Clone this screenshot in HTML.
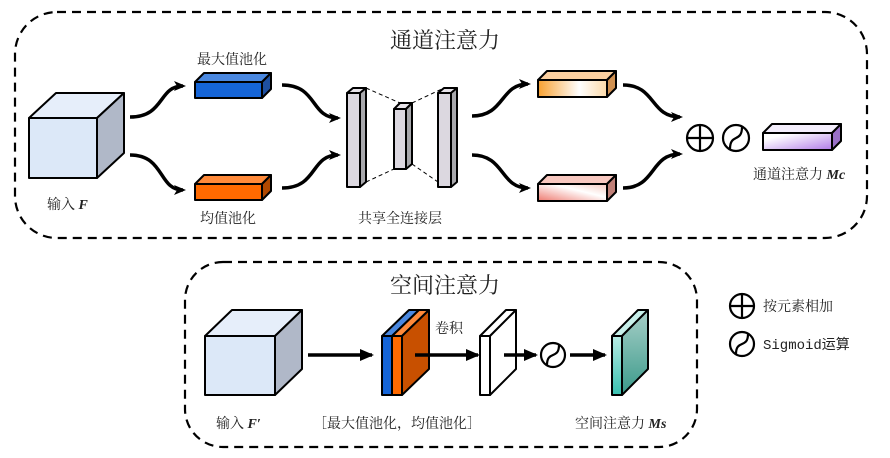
<!DOCTYPE html>
<html><head><meta charset="utf-8"><style>
html,body{margin:0;padding:0;background:#fff;}
svg{display:block;}
text{font-family:"Liberation Serif","Noto Serif CJK SC",serif;fill:#222;}
.m{font-family:"Liberation Mono","Noto Sans CJK SC",monospace;}
</style></head><body>
<svg width="890" height="458" viewBox="0 0 890 458" xmlns="http://www.w3.org/2000/svg">
<defs>
<marker id="ah" markerWidth="12" markerHeight="10" refX="9" refY="5" orient="auto" markerUnits="userSpaceOnUse">
<path d="M0,0 L12,5 L0,10 L3,5 Z" fill="#000"/></marker>
<marker id="ah2" markerWidth="14" markerHeight="12" refX="12" refY="6" orient="auto" markerUnits="userSpaceOnUse">
<path d="M0,0 L14,6 L0,12 Z" fill="#000"/></marker>
<linearGradient id="go" x1="0" y1="0" x2="1" y2="0"><stop offset="0" stop-color="#f7a030"/><stop offset="0.6" stop-color="#fff"/><stop offset="1" stop-color="#fbd9a8"/></linearGradient>
<linearGradient id="gp" x1="0" y1="1" x2="1" y2="0"><stop offset="0" stop-color="#ee7a70"/><stop offset="0.6" stop-color="#fff"/><stop offset="1" stop-color="#f5c8c0"/></linearGradient>
<linearGradient id="gv" x1="0" y1="0" x2="1" y2="1"><stop offset="0.2" stop-color="#fff"/><stop offset="1" stop-color="#b07ae8"/></linearGradient>
<linearGradient id="gt" x1="0" y1="0" x2="0" y2="1"><stop offset="0" stop-color="#b8ece4"/><stop offset="1" stop-color="#38c0b0"/></linearGradient>
<linearGradient id="gt2" x1="0" y1="0" x2="0" y2="1"><stop offset="0" stop-color="#a8cfc8"/><stop offset="1" stop-color="#3a9a8a"/></linearGradient>
</defs>
<g stroke="#000" stroke-width="2.2" fill="none" stroke-dasharray="9,6">
<rect x="15" y="12" width="852" height="226" rx="42"/>
<rect x="185" y="262" width="512" height="185" rx="38"/>
</g>
<text x="445" y="48" font-size="22" text-anchor="middle">通道注意力</text>
<text x="445" y="293" font-size="22" text-anchor="middle">空间注意力</text>
<g stroke="#000" stroke-width="2" stroke-linejoin="round">
<polygon points="29,118 56,93 124,93 97,118" fill="#e6eefa"/>
<polygon points="97,118 124,93 124,153 97,178" fill="#b0b8c8"/>
<rect x="29" y="118" width="68" height="60" fill="#dce8f8"/>
<polygon points="195,82 204,73 271,73 262,82" fill="#4a88e0"/>
<polygon points="262,82 271,73 271,89 262,98" fill="#1e4fa0"/>
<rect x="195" y="82" width="67" height="16" fill="#1565d8"/>
<polygon points="195,184 204,175 271,175 262,184" fill="#ff8a3a"/>
<polygon points="262,184 271,175 271,191 262,200" fill="#b04800"/>
<rect x="195" y="184" width="67" height="16" fill="#ff6a00"/>
<polygon points="347,93 353,88 366,88 360,93" fill="#e8e4ea"/>
<polygon points="360,93 366,88 366,182 360,187" fill="#a8a8ac"/>
<rect x="347" y="93" width="13" height="94" fill="#dcd8e0"/>
<polygon points="394,109 400,103 412,103 406,109" fill="#e8e4ea"/>
<polygon points="406,109 412,103 412,164 406,169" fill="#a8a8ac"/>
<rect x="394" y="109" width="12" height="60" fill="#dcd8e0"/>
<polygon points="438,93 444,88 457,88 451,93" fill="#e8e4ea"/>
<polygon points="451,93 457,88 457,182 451,187" fill="#a8a8ac"/>
<rect x="438" y="93" width="13" height="94" fill="#dcd8e0"/>
<polygon points="538,80 547,71 616,71 607,80" fill="#fcd0a0"/>
<polygon points="607,80 616,71 616,88 607,97" fill="#d09050"/>
<rect x="538" y="80" width="69" height="17" fill="url(#go)"/>
<polygon points="538,184 547,175 616,175 607,184" fill="#f8c8c0"/>
<polygon points="607,184 616,175 616,192 607,201" fill="#c08078"/>
<rect x="538" y="184" width="69" height="17" fill="url(#gp)"/>
<polygon points="763,133 772,124 841,124 832,133" fill="#f4eefc"/>
<polygon points="832,133 841,124 841,141 832,150" fill="#9a70c8"/>
<rect x="763" y="133" width="69" height="17" fill="url(#gv)"/>
<polygon points="205,336 232,310 302,310 275,336" fill="#e6eefa"/>
<polygon points="275,336 302,310 302,369 275,395" fill="#b0b8c8"/>
<rect x="205" y="336" width="70" height="59" fill="#dce8f8"/>
<polygon points="382,336 409,310 419,310 392,336" fill="#4a88e0"/>
<polygon points="392,336 419,310 429,310 402,336" fill="#ff8a3a"/>
<polygon points="402,336 429,310 429,369 402,395" fill="#c85000"/>
<rect x="382" y="336" width="10" height="59" fill="#1565d8"/>
<rect x="392" y="336" width="10" height="59" fill="#ff6a00"/>
<polygon points="480,336 506,310 516,310 490,336" fill="#fff"/>
<polygon points="490,336 516,310 516,369 490,395" fill="#fff"/>
<rect x="480" y="336" width="10" height="59" fill="#fff"/>
<polygon points="612,336 638,310 648,310 622,336" fill="#c8f0ea"/>
<polygon points="622,336 648,310 648,369 622,395" fill="url(#gt2)"/>
<rect x="612" y="336" width="10" height="59" fill="url(#gt)"/>
</g>
<g stroke="#000" stroke-width="1" stroke-dasharray="4,3">
<line x1="366" y1="88" x2="400" y2="103"/><line x1="412" y1="103" x2="444" y2="88"/>
<line x1="366" y1="182" x2="394" y2="169"/><line x1="412" y1="164" x2="438" y2="182"/>
</g>
<g stroke="#000" stroke-width="3.5" fill="none" marker-end="url(#ah)">
<path d="M130,117 C165,117 158,86 183,86"/>
<path d="M130,155 C165,155 158,190 183,190"/>
<path d="M282,85 C318,85 310,118 338,118"/>
<path d="M282,188 C318,188 310,155 338,155"/>
<path d="M472,116 C505,116 500,84 528,84"/>
<path d="M472,155 C505,155 500,188 528,188"/>
<path d="M623,85 C656,85 650,117 680,117"/>
<path d="M623,188 C656,188 650,154 680,154"/>
</g>
<g stroke="#000" stroke-width="3.5" marker-end="url(#ah2)">
<line x1="308" y1="355" x2="372" y2="355"/>
<line x1="415" y1="355" x2="478" y2="355"/>
<line x1="504" y1="355" x2="536" y2="355"/>
<line x1="570" y1="355" x2="605" y2="355"/>
</g>
<g stroke="#000" stroke-width="2.2" fill="none">
<circle cx="700" cy="138" r="13"/><line x1="687" y1="138" x2="713" y2="138"/><line x1="700" y1="125" x2="700" y2="151"/>
<circle cx="736" cy="138" r="13"/><path d="M730,149 C730,133 742,143 742,127"/>
<circle cx="553" cy="355" r="12"/><path d="M547,365 C547,350 559,360 559,345"/>
<circle cx="742" cy="306" r="12"/><line x1="730" y1="306" x2="754" y2="306"/><line x1="742" y1="294" x2="742" y2="318"/>
<circle cx="742" cy="344" r="12"/><path d="M736,354 C736,339 748,349 748,334"/>
</g>
<g font-size="14">
<text x="232" y="64" text-anchor="middle">最大值池化</text>
<text x="228" y="223" text-anchor="middle">均值池化</text>
<text x="47" y="209">输入 <tspan font-weight="bold" font-style="italic">F</tspan></text>
<text x="400" y="223" text-anchor="middle">共享全连接层</text>
<text x="753" y="179">通道注意力 <tspan font-weight="bold" font-style="italic">Mc</tspan></text>
<text x="435" y="333">卷积</text>
<text x="216" y="428">输入 <tspan font-weight="bold" font-style="italic">F′</tspan></text>
<text x="313" y="428">［最大值池化，均值池化］</text>
<text x="575" y="428">空间注意力 <tspan font-weight="bold" font-style="italic">Ms</tspan></text>
<text x="763" y="311">按元素相加</text>
<text x="763" y="349" class="m">Sigmoid运算</text>
</g>
</svg>
</body></html>
